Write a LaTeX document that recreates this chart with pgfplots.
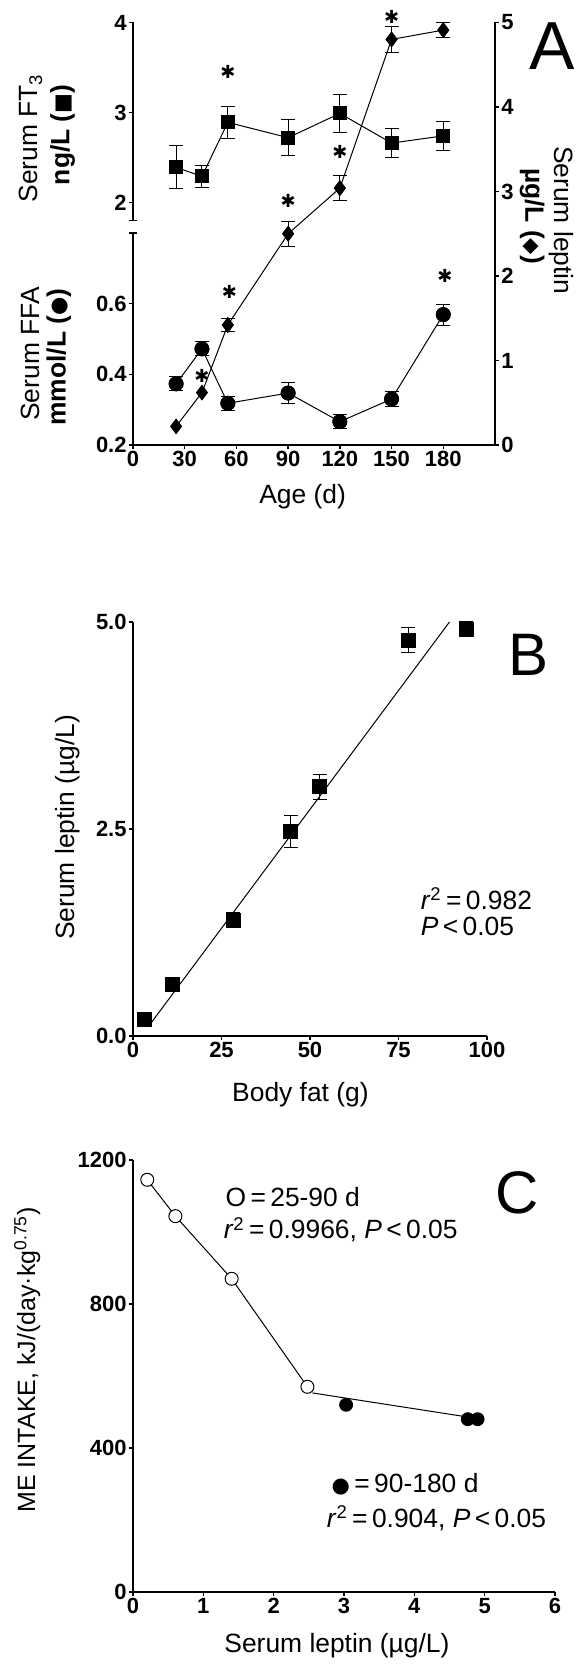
\documentclass[border=0pt]{standalone}
\usepackage{fontspec}
\setmainfont{Liberation Sans}
\newfontfamily\sym{DejaVu Sans}
\usepackage{pgfplots}
\pgfplotsset{compat=1.18}

\newcommand{\lab}{\fontsize{13.2}{15}\selectfont}
\newcommand{\panelfont}[1]{\fontsize{#1}{#1}\selectfont}
\newcommand{\st}{{\fontsize{9}{9}\selectfont\sym ✱}}
\newcommand{\sm}[1]{{\fontsize{10.5}{10.5}\selectfont\sym #1}}

\pgfplotsset{
  panel/.style={
    scale only axis, anchor=south west, clip=false,
    axis line style={line width=0.7pt},
    tick style={line width=0.7pt, black},
    tick align=outside, major tick length=2pt,
    tick label style={font=\fontsize{11}{13}\selectfont\bfseries, inner sep=1pt},
    /pgf/number format/assume math mode=true,
    /pgf/number format/1000 sep={},
    scaled ticks=false,
  },
  ebar/.style={black, only marks,
    error bars/y dir=both, error bars/y explicit, error bars/error mark=|,
    error bars/error bar style={line width=0.5pt, solid},
    error bars/error mark options={mark size=3.5pt, line width=0.5pt, solid}},
}

\begin{document}
\begin{tikzpicture}
\useasboundingbox (0,0) rectangle (293.5pt,832pt);

% ---------- A: FT3 (upper left)
\begin{axis}[panel, at={(66.5pt,721.75pt)}, width=181pt, height=99pt,
  xmin=0, xmax=210, ymin=1.8, ymax=4,
  axis x line=none, axis y line*=left, ytick={2,3,4},
  extra y ticks={1.8}, extra y tick labels={},
  extra y tick style={tick align=center, major tick length=4pt}]
\addplot[ebar, mark=square*, mark size=3.25pt] coordinates {
  (25,2.39) +- (0,0.24) (40,2.29) +- (0,0.12) (55,2.89) +- (0,0.18)
  (90,2.72) +- (0,0.20) (120,2.99) +- (0,0.21) (150,2.66) +- (0,0.16)
  (180,2.74) +- (0,0.16)};
\addplot[black, line width=0.5pt, mark=square*, mark size=3.25pt] coordinates {
  (25,2.39) (40,2.29) (55,2.89) (90,2.72) (120,2.99) (150,2.66) (180,2.74)};
\end{axis}

% ---------- A: FFA (lower left)
\begin{axis}[panel, at={(66.5pt,609.5pt)}, width=181pt, height=106pt,
  xmin=0, xmax=210, ymin=0.2, ymax=0.8,
  axis x line*=bottom, axis y line*=left,
  xtick={0,30,60,90,120,150,180}, ytick={0.2,0.4,0.6},
  yticklabel style={/pgf/number format/.cd, fixed, fixed zerofill, precision=1},
  extra y ticks={0.8}, extra y tick labels={},
  extra y tick style={tick align=center, major tick length=4pt}]
\addplot[ebar, mark=*, mark size=3.5pt] coordinates {
  (25,0.373) +- (0,0.02) (40,0.472) +- (0,0.02) (55,0.318) +- (0,0.02)
  (90,0.347) +- (0,0.03) (120,0.266) +- (0,0.02) (150,0.330) +- (0,0.02)
  (180,0.569) +- (0,0.03)};
\addplot[black, line width=0.5pt, mark=*, mark size=3.5pt] coordinates {
  (25,0.373) (40,0.472) (55,0.318) (90,0.347) (120,0.266) (150,0.330) (180,0.569)};
\end{axis}

% ---------- A: leptin (right)
\begin{axis}[panel, at={(66.5pt,609.5pt)}, width=181pt, height=211.25pt,
  xmin=0, xmax=210, ymin=0, ymax=5,
  axis x line=none, axis y line*=right, ytick={0,1,2,3,4,5}]
\addplot[ebar, mark=diamond*, mark size=3.6pt] coordinates {
  (55,1.42) +- (0,0.08) (90,2.50) +- (0,0.15) (120,3.04) +- (0,0.15)
  (150,4.80) +- (0,0.15) (180,4.91) +- (0,0.09)};
\addplot[black, line width=0.5pt, mark=diamond*, mark size=3.6pt] coordinates {
  (25,0.22) (40,0.62) (55,1.42) (90,2.50) (120,3.04) (150,4.80) (180,4.91)};
\node at (axis cs:55,4.41) {\st};
\node at (axis cs:90,2.89) {\st};
\node at (axis cs:120,3.47) {\st};
\node at (axis cs:150,5.07) {\st};
\node at (axis cs:40,0.815) {\st};
\node at (axis cs:56,1.815) {\st};
\node at (axis cs:181,2.0) {\st};
\node[rotate=90] at (axis cs:-59.4,3.63) {\lab Serum FT\textsubscript{3}};
\node[rotate=90] at (axis cs:-40.9,3.67) {\lab\bfseries ng/L (\sm{■})};
\node[rotate=90] at (axis cs:-59.4,1.077) {\lab Serum FFA};
\node[rotate=90] at (axis cs:-43.1,1.04) {\lab\bfseries mmol/L (\sm{●})};
\node[rotate=-90] at (axis cs:248.6,2.66) {\lab Serum leptin};
\node[rotate=-90] at (axis cs:231.5,2.71) {\lab\bfseries µg/L (\sm{◆})};
\node at (axis cs:243,4.72) {\panelfont{34}A};
\node at (axis cs:98.4,-0.615) {\lab Age (d)};
\end{axis}

% ---------- B
\begin{axis}[panel, at={(66.5pt,314pt)}, width=177pt, height=207pt,
  xmin=0, xmax=100, ymin=0, ymax=5,
  axis x line*=bottom, axis y line*=left,
  xtick={0,25,50,75,100}, ytick={0,2.5,5},
  yticklabel style={/pgf/number format/.cd, fixed, fixed zerofill, precision=1}]
\addplot[ebar, mark=square*, mark size=3.5pt] coordinates {
  (28.3,1.40) +- (0,0.09) (44.6,2.47) +- (0,0.19) (52.7,3.01) +- (0,0.15)
  (77.8,4.78) +- (0,0.15) (94.2,4.91) +- (0,0.09)};
\addplot[black, only marks, mark=square*, mark size=3.5pt] coordinates {
  (3.2,0.20) (11.1,0.62) (28.3,1.40) (44.6,2.47) (52.7,3.01) (77.8,4.78) (94.2,4.91)};
\addplot[black, line width=0.5pt] coordinates {(4.8,0.14) (89.4,5.0)};
\node[anchor=west] at (axis cs:79.3,1.66) {\lab\textit{r}\textsuperscript{2}\,=\,0.982};
\node[anchor=west] at (axis cs:79.3,1.32) {\lab\textit{P}\,<\,0.05};
\node at (axis cs:111.6,4.60) {\panelfont{30}B};
\node[rotate=90] at (axis cs:-18.5,2.52) {\lab Serum leptin (µg/L)};
\node at (axis cs:47.3,-0.71) {\lab Body fat (g)};
\end{axis}

% ---------- C
\begin{axis}[panel, at={(66.5pt,36pt)}, width=211pt, height=216pt,
  xmin=0, xmax=6, ymin=0, ymax=1200,
  axis x line*=bottom, axis y line*=left,
  xtick={0,1,2,3,4,5,6}, ytick={0,400,800,1200}]
\addplot[black, line width=0.5pt, mark=*, mark size=3.25pt, mark options={fill=white}] coordinates {
  (0.203,1145) (0.603,1044) (1.403,870) (2.48,570)};
\addplot[black, line width=0.5pt] coordinates {(2.55,553) (4.76,486)};
\addplot[black, only marks, mark=*, mark size=3.25pt] coordinates {
  (3.03,520) (4.76,480) (4.90,480)};
\node[anchor=west] at (axis cs:1.216,1097) {\lab O\,=\,25-90 d};
\node[anchor=west] at (axis cs:1.19,1006.5) {\lab\textit{r}\textsuperscript{2}\,=\,0.9966, \textit{P}\,<\,0.05};
\node[anchor=west] at (axis cs:2.725,299.7) {\lab\sm{●}\,=\,90-180 d};
\node[anchor=west] at (axis cs:2.656,204) {\lab\textit{r}\textsuperscript{2}\,=\,0.904, \textit{P}\,<\,0.05};
\node at (axis cs:5.456,1107.5) {\panelfont{30}C};
\node[rotate=90] at (axis cs:-1.504,645) {\fontsize{12.5}{14}\selectfont ME INTAKE, kJ/(day·kg\textsuperscript{0.75})};
\node at (axis cs:2.9,-150) {\lab Serum leptin (µg/L)};
\end{axis}
\end{tikzpicture}
\end{document}
